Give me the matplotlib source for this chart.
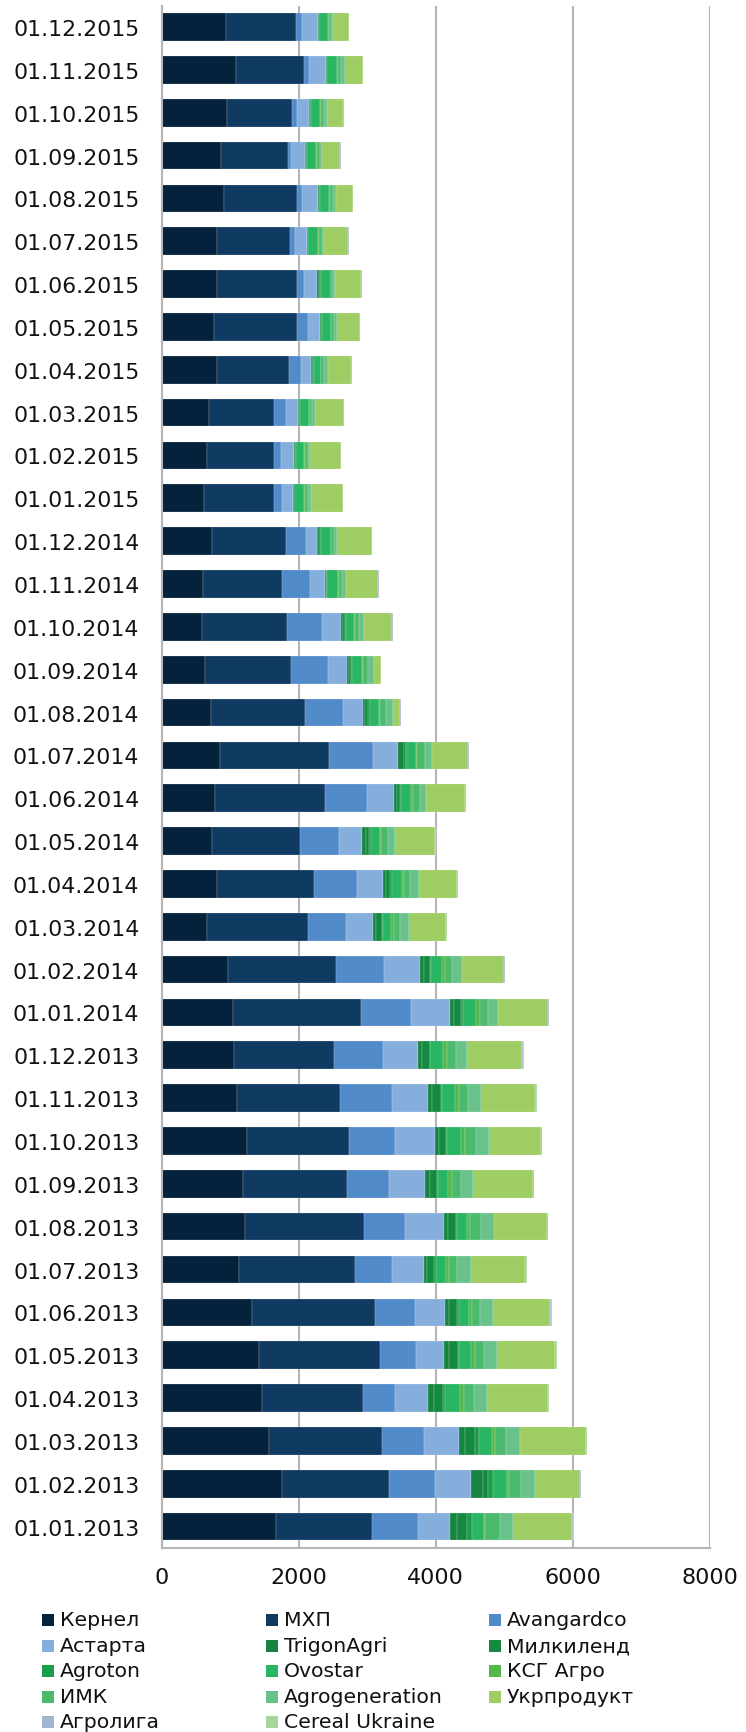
import matplotlib
matplotlib.use("Agg")
import matplotlib.pyplot as plt
from matplotlib.patches import Rectangle

plt.rcParams['font.family'] = ['DejaVu Sans']

# rows listed top to bottom, as in the picture
dates = ['01.12.2015', '01.11.2015', '01.10.2015', '01.09.2015', '01.08.2015', '01.07.2015',
         '01.06.2015', '01.05.2015', '01.04.2015', '01.03.2015', '01.02.2015', '01.01.2015',
         '01.12.2014', '01.11.2014', '01.10.2014', '01.09.2014', '01.08.2014', '01.07.2014',
         '01.06.2014', '01.05.2014', '01.04.2014', '01.03.2014', '01.02.2014', '01.01.2014',
         '01.12.2013', '01.11.2013', '01.10.2013', '01.09.2013', '01.08.2013', '01.07.2013',
         '01.06.2013', '01.05.2013', '01.04.2013', '01.03.2013', '01.02.2013', '01.01.2013']

kernel = [944, 1081, 949, 870, 919, 817, 817, 773, 817, 699, 665, 626, 738, 611, 597, 641, 729, 856,
          782, 743, 812, 663, 974, 1042, 1058, 1105, 1247, 1195, 1221, 1132, 1326, 1426, 1474, 1566, 1762, 1678]
mhp = [1017, 997, 963, 983, 1066, 1056, 1158, 1212, 1051, 939, 973, 1012, 1086, 1154, 1237, 1256, 1369, 1589,
       1599, 1281, 1413, 1469, 1568, 1868, 1458, 1495, 1490, 1515, 1737, 1689, 1790, 1769, 1473, 1658, 1553, 1399]
avangard = [88, 69, 64, 44, 64, 73, 103, 147, 161, 186, 113, 127, 284, 396, 503, 528, 548, 646,
            617, 563, 626, 557, 711, 737, 710, 768, 673, 606, 594, 537, 584, 515, 458, 608, 671, 671]
astarta = [230, 249, 176, 201, 230, 176, 196, 176, 152, 171, 181, 152, 156, 220, 284, 279, 288, 357,
           396, 342, 376, 400, 526, 569, 521, 516, 579, 536, 569, 468, 437, 411, 490, 504, 532, 462]
trigon = [8, 8, 10, 8, 12, 8, 20, 10, 14, 8, 8, 7, 20, 14, 25, 30, 40, 98,
          40, 50, 50, 45, 50, 60, 55, 70, 60, 60, 65, 55, 65, 75, 80, 98, 180, 105]
milkiland = [8, 8, 12, 10, 14, 8, 24, 12, 16, 10, 10, 8, 25, 16, 28, 35, 45, 24,
             45, 55, 60, 80, 95, 100, 110, 120, 105, 105, 110, 100, 115, 125, 135, 147, 72, 140]
agroton = [4, 4, 7, 6, 8, 4, 10, 7, 9, 6, 6, 5, 14, 9, 15, 18, 23, 5,
           13, 22, 27, 17, 13, 19, 14, 20, 19, 19, 20, 19, 20, 21, 22, 49, 70, 84]
ovostar = [127, 142, 132, 127, 137, 147, 142, 132, 103, 132, 122, 147, 147, 152, 127, 137, 137, 137,
           152, 137, 147, 121, 158, 200, 184, 195, 195, 147, 147, 147, 153, 174, 226, 196, 196, 168]
ksg = [15, 20, 15, 15, 15, 10, 10, 10, 10, 10, 10, 10, 10, 12, 10, 10, 10, 24,
       20, 10, 24, 42, 42, 53, 58, 58, 68, 53, 42, 53, 47, 53, 63, 42, 40, 10]
imk = [30, 44, 49, 44, 44, 39, 29, 34, 34, 39, 44, 39, 39, 47, 58, 78, 88, 108,
       103, 102, 98, 89, 105, 121, 132, 126, 158, 132, 163, 116, 116, 132, 147, 161, 168, 224]
agrogen = [34, 59, 34, 34, 34, 34, 29, 49, 64, 44, 39, 44, 44, 59, 73, 83, 98, 103,
           98, 108, 127, 126, 147, 137, 158, 184, 184, 184, 190, 195, 190, 195, 190, 203, 210, 196]
ukrprod = [230, 254, 245, 269, 249, 357, 381, 328, 342, 421, 450, 469, 504, 474, 411, 103, 112, 528,
           567, 577, 548, 537, 616, 737, 811, 800, 763, 868, 768, 800, 832, 853, 879, 958, 657, 860]
agroliga = [5, 5, 5, 5, 5, 5, 5, 5, 5, 5, 5, 5, 8, 8, 8, 8, 8, 8,
            8, 8, 8, 8, 8, 8, 10, 10, 10, 10, 10, 10, 10, 10, 10, 10, 10, 10]
cereal = [0, 0, 0, 0, 0, 0, 0, 0, 0, 0, 0, 0, 4, 4, 4, 4, 4, 4,
          6, 6, 6, 6, 6, 6, 8, 8, 8, 8, 8, 8, 8, 8, 8, 8, 8, 8]

names = ['Кернел', 'МХП', 'Avangardco', 'Астарта', 'TrigonAgri', 'Милкиленд', 'Agroton',
         'Ovostar', 'КСГ Агро', 'ИМК', 'Agrogeneration', 'Укрпродукт', 'Агролига', 'Cereal Ukraine']
series = [kernel, mhp, avangard, astarta, trigon, milkiland, agroton,
          ovostar, ksg, imk, agrogen, ukrprod, agroliga, cereal]
colors = ['#05223d', '#0f3a62', '#528bc9', '#85aedd', '#168541', '#138a3f', '#1a9d4b',
          '#29b562', '#55b749', '#4bba6d', '#68c289', '#9ecd63', '#a2b4d0', '#a4d59a']

W, H = 746, 1733
fig = plt.figure(figsize=(W / 100, H / 100), dpi=100)
ax = fig.add_axes([161.5 / W, 1 - 1549 / H, (709.6 - 161.5) / W, (1549 - 6.6) / H])

y = list(range(len(dates)))
left = [0] * len(dates)
for vals, col in zip(series, colors):
    ax.barh(y, vals, left=left, height=0.645, color=col, edgecolor=(1, 1, 1, 0.45), linewidth=0.3)
    left = [l + v for l, v in zip(left, vals)]

ax.set_ylim(len(dates) - 0.5, -0.5)
ax.set_yticks(y, labels=dates)
ax.set_xlim(0, 8000)
ax.set_xticks([0, 2000, 4000, 6000, 8000])
ax.tick_params(axis='y', length=0, pad=16, labelsize=15.8, labelcolor='#111111')
ax.tick_params(axis='x', length=0, pad=14, labelsize=16, labelcolor='#111111')
ax.grid(axis='x', color='#b5b5b5', linewidth=1.5)
ax.set_axisbelow(True)
for s in ['top', 'right']:
    ax.spines[s].set_visible(False)
for s in ['left', 'bottom']:
    ax.spines[s].set_color('#b5b5b5')
    ax.spines[s].set_linewidth(1.5)

# legend drawn by hand: 3 columns, filled row by row
col_x = [42, 266, 489]
row_y = [1621, 1647, 1672, 1698, 1723]
for i, (name, col) in enumerate(zip(names, colors)):
    r, c = divmod(i, 3)
    x0, y0 = col_x[c], row_y[r]
    fig.add_artist(Rectangle((x0 / W, 1 - (y0 + 6) / H), 12 / W, 12 / H,
                             transform=fig.transFigure, facecolor=col, edgecolor='none'))
    fig.text((x0 + 18) / W, 1 - y0 / H, name, fontsize=14.7, va='center', ha='left', color='#111111')

fig.savefig('out.png', dpi=100)
